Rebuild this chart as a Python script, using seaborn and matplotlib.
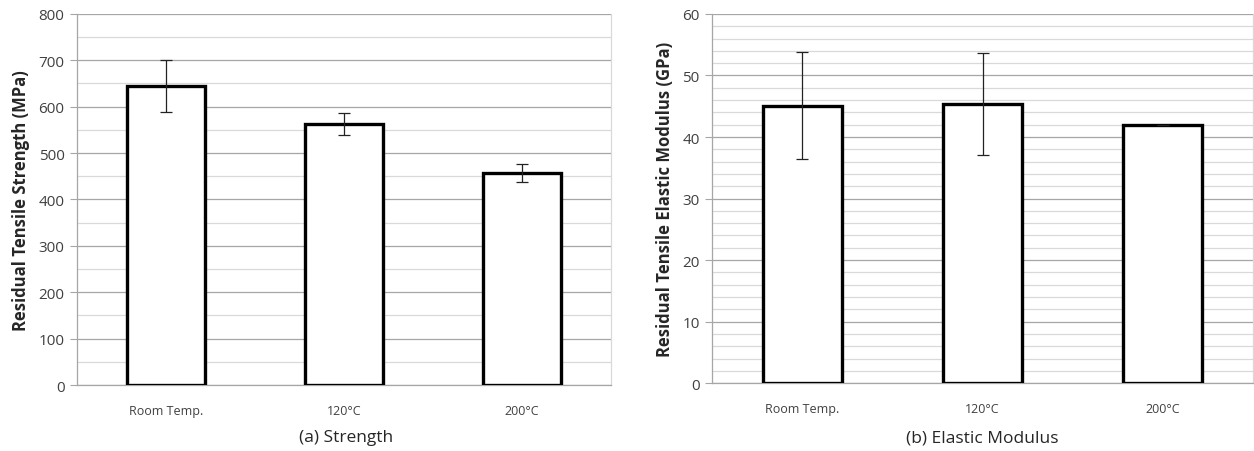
import numpy as np
import pandas as pd
import matplotlib
matplotlib.use("Agg")
import matplotlib.pyplot as plt
import seaborn as sns
from matplotlib.ticker import MultipleLocator

# data
conditions = ["Room Temp.", "120°C", "200°C"]
strength = [645, 563, 457]
strength_err = [56, 24, 20]
modulus = [45.1, 45.3, 41.9]
modulus_err = [8.7, 8.3, 0.0]

sns.set_style("white")
plt.rcParams["font.family"] = ["Open Sans", "DejaVu Sans"]

fig = plt.figure(figsize=(12.54, 4.52), dpi=100)
ax1 = fig.add_axes([0.0614, 0.146, 0.426, 0.821])
ax2 = fig.add_axes([0.568, 0.150, 0.431, 0.817])

def draw(ax, vals, errs, ymax, major, minor, ylabel):
    df = pd.DataFrame({"cond": conditions, "val": vals})
    sns.barplot(data=df, x="cond", y="val", ax=ax, color="white",
                edgecolor="black", linewidth=2.4, width=0.44,
                errorbar=None, zorder=3)
    ax.errorbar(np.arange(len(vals)), vals, yerr=errs, fmt="none",
                ecolor="#222222", elinewidth=0.9, capsize=4, capthick=0.9,
                zorder=4)
    ax.set_ylim(0, ymax)
    ax.set_xlim(-0.5, 2.5)
    ax.yaxis.set_major_locator(MultipleLocator(major))
    ax.yaxis.set_minor_locator(MultipleLocator(minor))
    ax.grid(which="major", axis="y", color="#a6a6a6", linewidth=0.9, zorder=0)
    ax.grid(which="minor", axis="y", color="#d9d9d9", linewidth=0.9, zorder=0)
    ax.set_axisbelow(True)
    ax.spines["top"].set_visible(False)
    ax.spines["right"].set_color("#d9d9d9")
    ax.spines["right"].set_linewidth(0.9)
    for s in ["left", "bottom"]:
        ax.spines[s].set_color("#a6a6a6")
        ax.spines[s].set_linewidth(0.9)
    ax.tick_params(axis="y", which="major", left=True, length=5,
                   color="#a6a6a6", labelsize=11, labelcolor="#404040", pad=4)
    ax.tick_params(axis="x", bottom=False, labelsize=9,
                   labelcolor="#404040", pad=10)
    ax.set_xlabel("")
    ax.set_ylabel(ylabel, fontsize=12, fontweight="bold", labelpad=6)

draw(ax1, strength, strength_err, 800, 100, 50,
     "Residual Tensile Strength (MPa)")
draw(ax2, modulus, modulus_err, 60, 10, 2,
     "Residual Tensile Elastic Modulus (GPa)")

fig.text(0.276, 0.022, "(a) Strength", ha="center", fontsize=12.5)
fig.text(0.783, 0.022, "(b) Elastic Modulus", ha="center", fontsize=12.5)

fig.savefig("out.png", dpi=100, facecolor="white")
